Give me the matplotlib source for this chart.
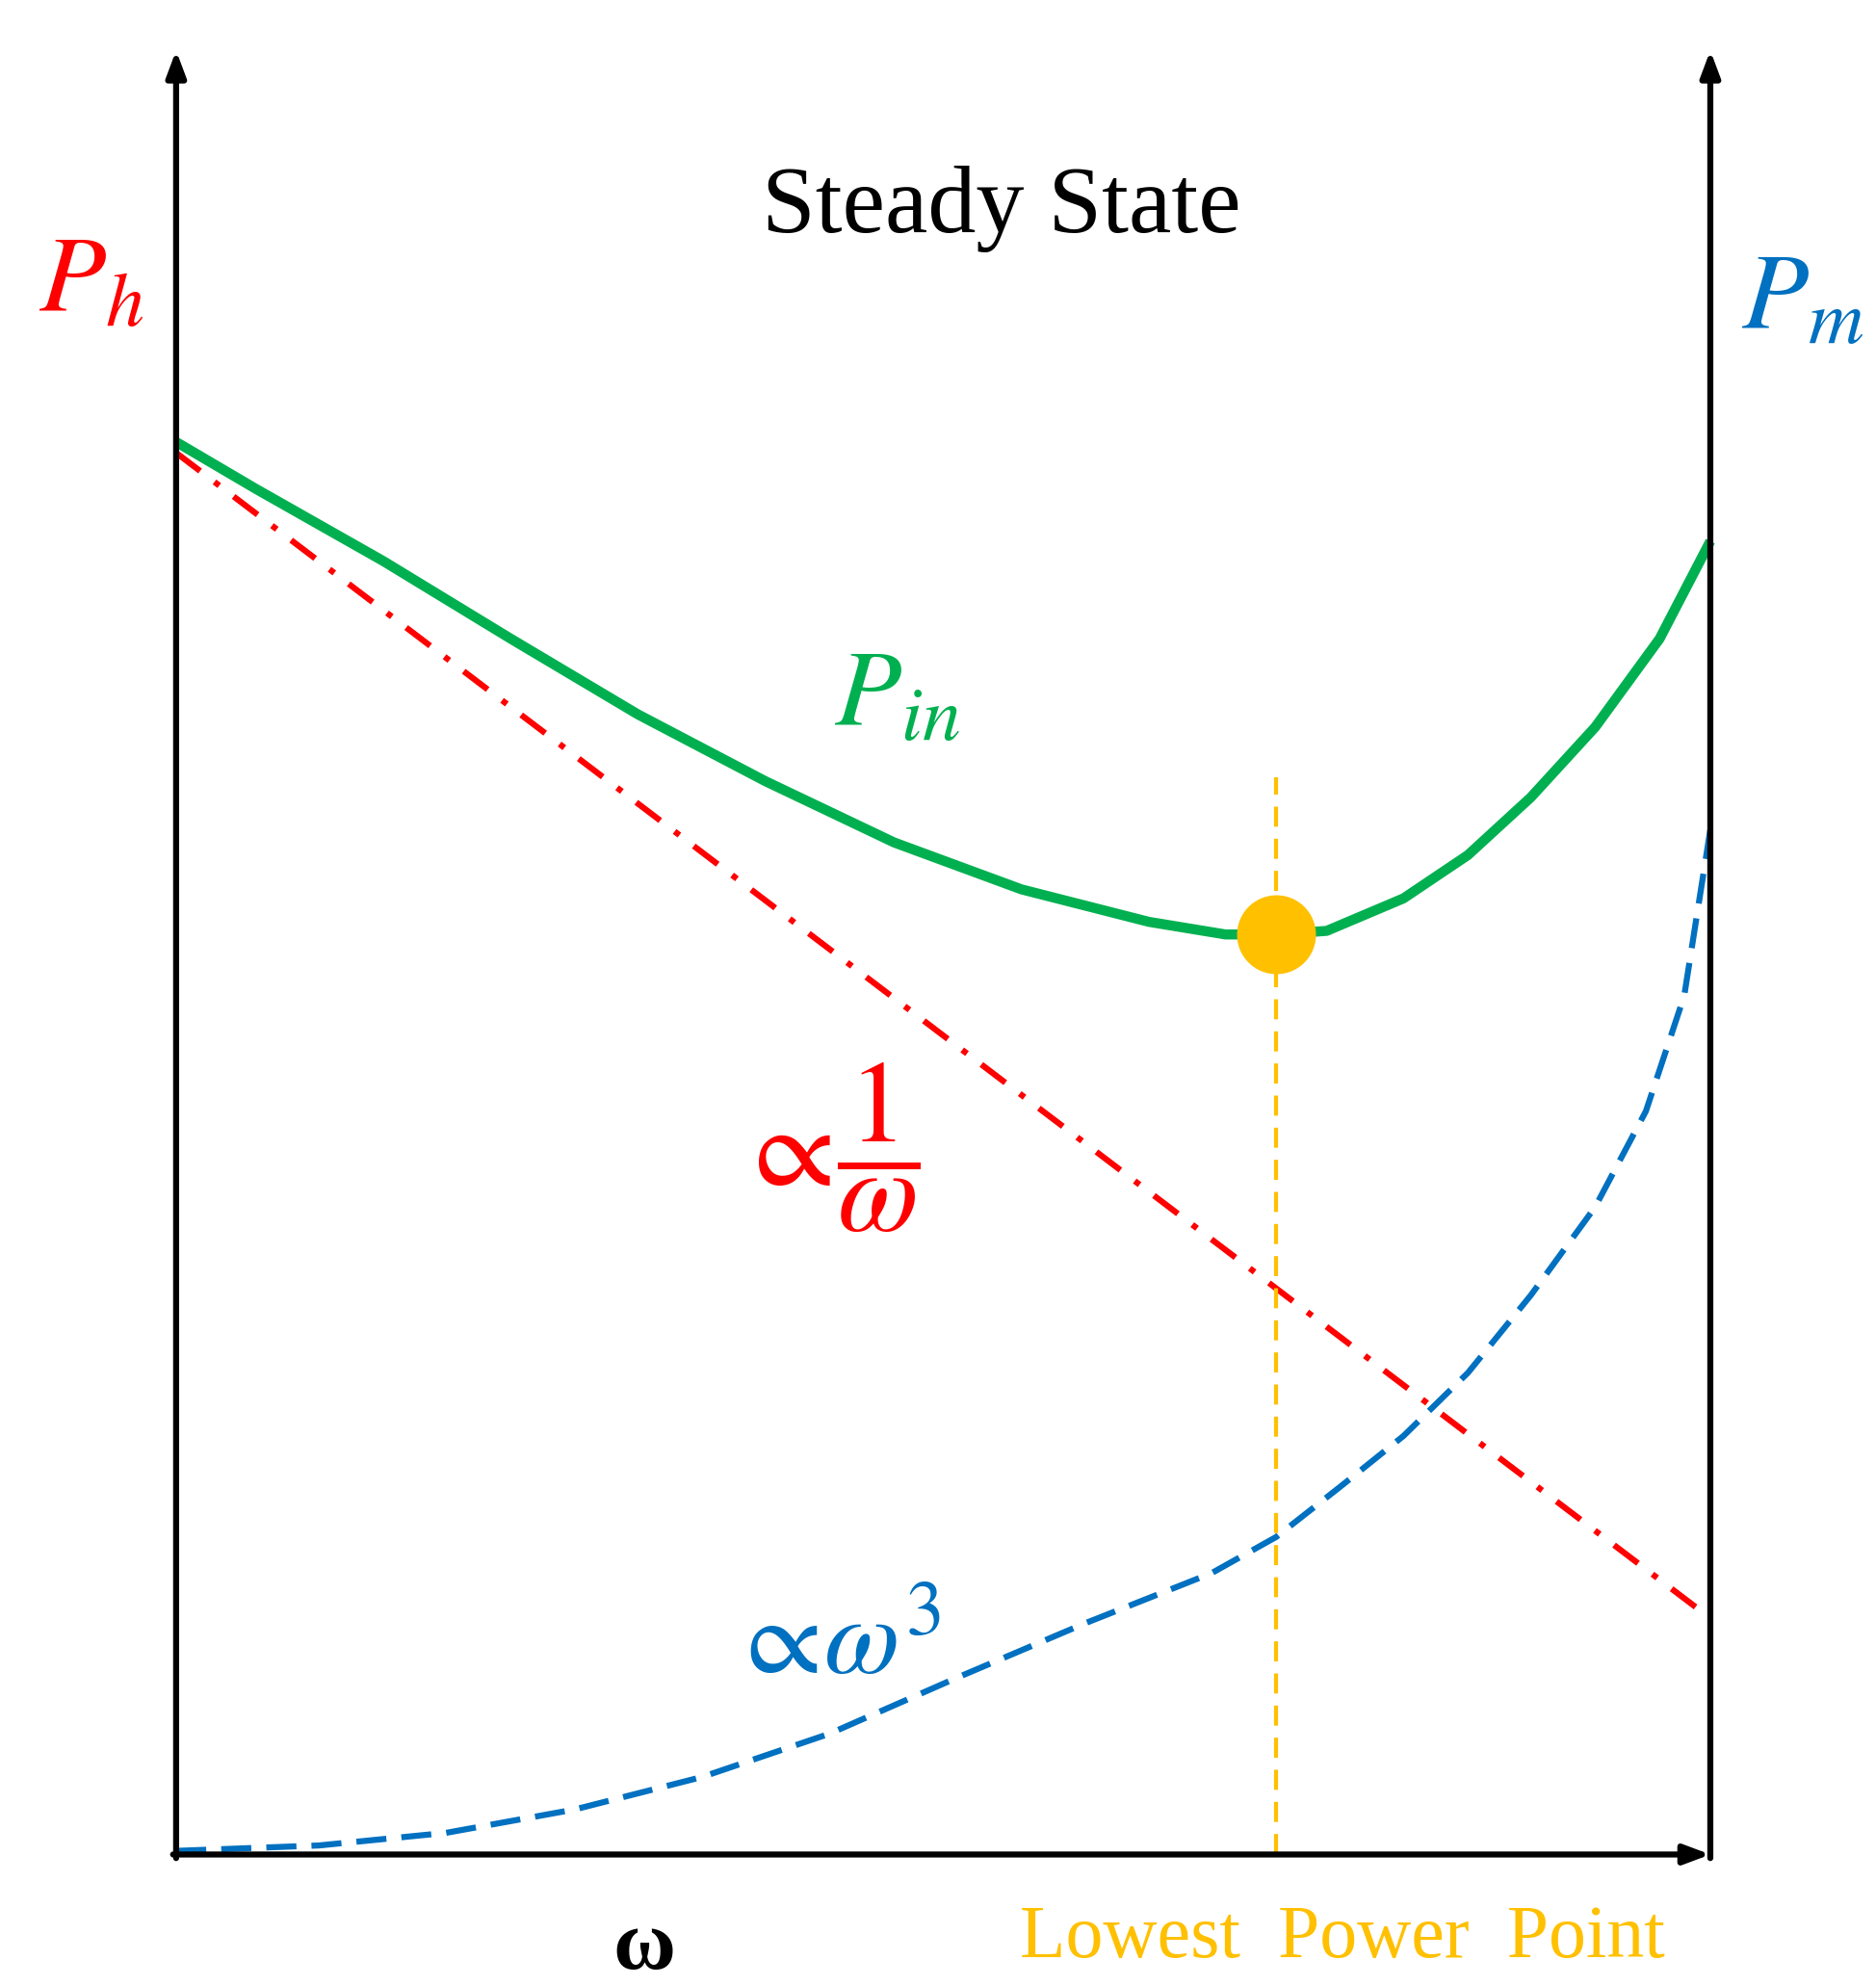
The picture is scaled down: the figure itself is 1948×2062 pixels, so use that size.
import matplotlib
matplotlib.use("Agg")
import matplotlib.pyplot as plt

plt.rcParams['mathtext.fontset'] = 'stix'
plt.rcParams['font.family'] = ['Liberation Serif', 'DejaVu Serif']

# data (arbitrary units, omega axis 0..10)
pin_x = [0, 0.52, 1.35, 2.18, 3.01, 3.84, 4.68, 5.51, 6.34, 6.84, 7.17, 7.50, 8.00, 8.42, 8.83, 9.25, 9.67, 10]
pin_y = [7.83, 7.57, 7.17, 6.74, 6.32, 5.95, 5.61, 5.35, 5.17, 5.10, 5.10, 5.12, 5.30, 5.54, 5.86, 6.25, 6.74, 7.28]
ph_x = [0, 10]
ph_y = [7.77, 1.31]
pm_x = [0, 0.93, 1.76, 2.60, 3.43, 4.26, 5.09, 5.92, 6.75, 7.17, 7.59, 8.00, 8.42, 8.83, 9.25, 9.58, 9.83, 10]
pm_y = [0.02, 0.05, 0.12, 0.25, 0.43, 0.67, 0.98, 1.28, 1.56, 1.76, 2.04, 2.32, 2.67, 3.10, 3.59, 4.12, 4.76, 5.68]
lpp_x = 7.17
lpp_y = 5.10
lpp_top = 5.97

fig = plt.figure(figsize=(19.48, 20.62), dpi=100)
ax = fig.add_axes([0, 0, 1, 1])
ax.set_xlim(-1.148, 11.08)
ax.set_ylim(-0.729, 10.28)
ax.axis('off')

GREEN, RED, BLUE, ORANGE = '#00B050', '#FF0000', '#0070C0', '#FFC000'

ax.plot(pin_x, pin_y, color=GREEN, lw=7.5, solid_capstyle='butt', solid_joinstyle='round', zorder=3)
ax.plot(ph_x, ph_y, color=RED, lw=4.5, linestyle=(0, (5, 3, 1, 3)), zorder=2)
ax.plot(pm_x, pm_y, color=BLUE, lw=4.5, linestyle=(0, (5, 2.5)), dash_joinstyle='round', zorder=2)
ax.plot([lpp_x, lpp_x], [0, lpp_top], color=ORANGE, lw=3, linestyle=(0, (5, 3)), zorder=2)
ax.plot([lpp_x], [lpp_y], 'o', color=ORANGE, markersize=58, zorder=4)

arrow = dict(arrowstyle='-|>,head_length=1.6,head_width=0.6', color='black', lw=4.5, shrinkA=0, shrinkB=0)
ax.annotate('', xy=(0, 10), xytext=(0, -0.02), arrowprops=arrow)
ax.annotate('', xy=(10, 10), xytext=(10, -0.02), arrowprops=arrow)
ax.annotate('', xy=(10, 0), xytext=(-0.02, 0), arrowprops=arrow)

ax.text(5.38, 9.12, 'Steady State', fontsize=72, ha='center', va='center', color='black')
ax.text(-0.55, 8.7, r'$P_h$', fontsize=82, color=RED, ha='center', va='center')
ax.text(10.6, 8.6, r'$P_m$', fontsize=82, color=BLUE, ha='center', va='center')
ax.text(4.7, 6.4, r'$P_{in}$', fontsize=82, color=GREEN, ha='center', va='center')
ax.text(4.25, 3.92, r'$\propto\!\dfrac{1}{\omega}$', fontsize=88, color=RED, ha='center', va='center')
ax.text(4.3, 1.15, r'$\propto\!\omega^3$', fontsize=82, color=BLUE, ha='center', va='center')
ax.text(3.05, -0.52, 'ω', fontsize=64, fontweight='bold', color='black', ha='center', va='center')
ax.text(7.6, -0.47, 'Lowest  Power  Point', fontsize=56, color=ORANGE, ha='center', va='center')

fig.savefig('out.png', dpi=100)
